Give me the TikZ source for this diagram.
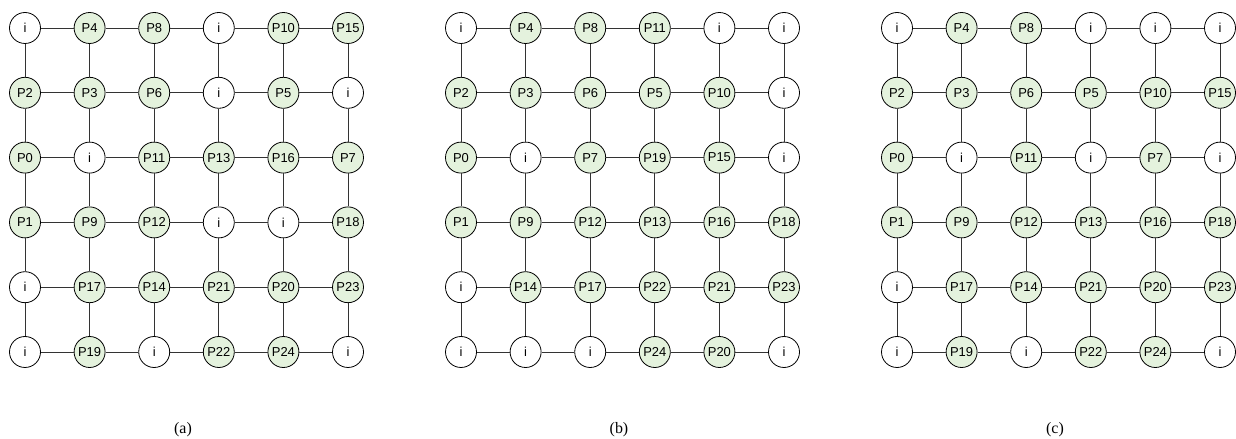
\documentclass[tikz,border=0pt]{standalone}
\usepackage{fontspec}
\setmainfont{Liberation Serif}
\newfontfamily\nodefont{Liberation Sans}
\definecolor{pfill}{HTML}{E4F2DD}
\definecolor{edgec}{HTML}{333333}
\begin{document}
\begin{tikzpicture}[x=1bp,y=-1bp,
  cell/.style={circle,draw=black,line width=0.8bp,minimum size=31bp,inner sep=0pt,font=\nodefont\fontsize{13}{15}\selectfont},
  pnode/.style={cell,fill=pfill},
  inode/.style={cell,fill=white},
  link/.style={draw=edgec,line width=0.9bp},
  captext/.style={font=\fontsize{16}{18}\selectfont}]
\useasboundingbox (0,0) rectangle (1236,439);
\def\tmpb{i}
\foreach \g/\r/\va/\vb/\vc/\vd/\ve/\vf in {
  0/0/i/P4/P8/i/P10/P15, 0/1/P2/P3/P6/i/P5/i, 0/2/P0/i/P11/P13/P16/P7,
  0/3/P1/P9/P12/i/i/P18, 0/4/i/P17/P14/P21/P20/P23, 0/5/i/P19/i/P22/P24/i,
  1/0/i/P4/P8/P11/i/i, 1/1/P2/P3/P6/P5/P10/i, 1/2/P0/i/P7/P19/P15/i,
  1/3/P1/P9/P12/P13/P16/P18, 1/4/i/P14/P17/P22/P21/P23, 1/5/i/i/i/P24/P20/i,
  2/0/i/P4/P8/i/i/i, 2/1/P2/P3/P6/P5/P10/P15, 2/2/P0/i/P11/i/P7/i,
  2/3/P1/P9/P12/P13/P16/P18, 2/4/i/P17/P14/P21/P20/P23, 2/5/i/P19/i/P22/P24/i}{
  \foreach \k/\lab in {0/\va,1/\vb,2/\vc,3/\vd,4/\ve,5/\vf}{
    \pgfmathsetmacro{\xx}{25+436*\g+64.6*\k}
    \pgfmathsetmacro{\yy}{28+64.8*\r}
    \edef\tmpa{\lab}
    \ifx\tmpa\tmpb
      \node[inode] (n\g-\r-\k) at (\xx,\yy) {i};
    \else
      \node[pnode] (n\g-\r-\k) at (\xx,\yy) {\tmpa};
    \fi
  }
}
\foreach \g in {0,1,2}{
  \foreach \r in {0,...,5}{
    \foreach \k [evaluate=\k as \kn using int(\k+1)] in {0,...,4}{
      \draw[link] (n\g-\r-\k) -- (n\g-\r-\kn);
      \draw[link] (n\g-\k-\r) -- (n\g-\kn-\r);
    }
  }
}
\node[captext] (capa) at (183,430) {(a)};
\node[captext] (capb) at (619,430) {(b)};
\node[captext] (capc) at (1055,430) {(c)};
\end{tikzpicture}
\end{document}
